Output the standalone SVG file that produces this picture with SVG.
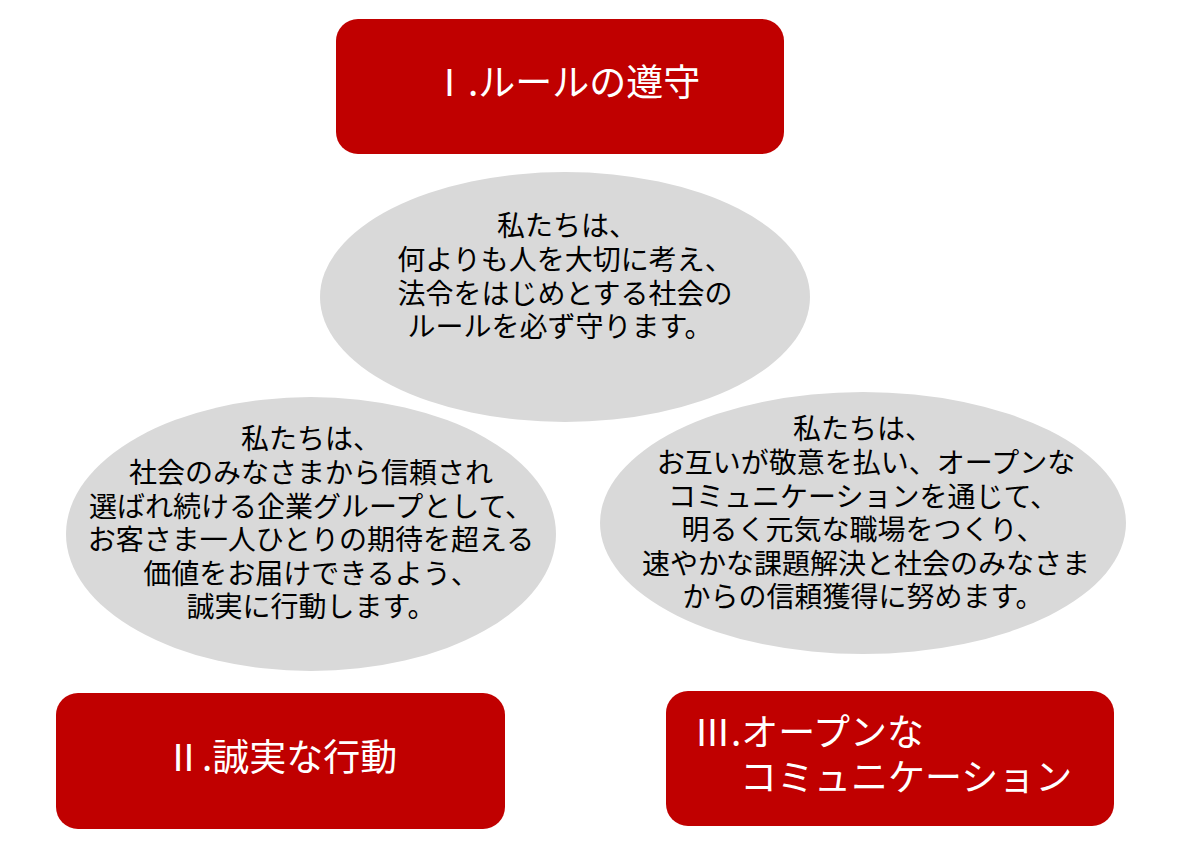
<svg xmlns="http://www.w3.org/2000/svg" width="1185" height="849" viewBox="0 0 1185 849">
<style>
.box{fill:#C00000;}
.ell{fill:#D9D9D9;}
.bt{font-family:"Noto Sans CJK JP","Noto Sans",sans-serif;font-size:37px;fill:#FFFFFF;}
.et{font-family:"Noto Sans CJK JP","Noto Sans",sans-serif;font-size:28px;fill:#000000;text-anchor:middle;}
</style>
<rect width="1185" height="849" fill="#FFFFFF"/>
<g id="connectors"></g>
<g id="box1">
<rect class="box" x="336" y="19" width="448" height="135" rx="22"/>
<text class="bt" x="431" y="96">Ⅰ.ルールの遵守</text>
</g>
<g id="ellipse1">
<ellipse class="ell" cx="565" cy="297" rx="245" ry="125"/>
<text class="et" x="567" y="236">私たちは、</text>
<text class="et" x="565" y="270">何よりも人を大切に考え、</text>
<text class="et" x="565" y="304">法令をはじめとする社会の</text>
<text class="et" x="560" y="337">ルールを必ず守ります。</text>
</g>
<g id="ellipse2">
<ellipse class="ell" cx="311" cy="534" rx="245" ry="137"/>
<text class="et" x="311" y="449">私たちは、</text>
<text class="et" x="311" y="483">社会のみなさまから信頼され</text>
<text class="et" x="311" y="517">選ばれ続ける企業グループとして、</text>
<text class="et" x="311" y="550">お客さま一人ひとりの期待を超える</text>
<text class="et" x="311" y="584">価値をお届けできるよう、</text>
<text class="et" x="311" y="617">誠実に行動します。</text>
</g>
<g id="ellipse3">
<ellipse class="ell" cx="863" cy="523" rx="263" ry="131"/>
<text class="et" x="863" y="439">私たちは、</text>
<text class="et" x="866" y="473">お互いが敬意を払い、オープンな</text>
<text class="et" x="863" y="507">コミュニケーションを通じて、</text>
<text class="et" x="863" y="540">明るく元気な職場をつくり、</text>
<text class="et" x="866" y="574">速やかな課題解決と社会のみなさま</text>
<text class="et" x="863" y="607">からの信頼獲得に努めます。</text>
</g>
<g id="box2">
<rect class="box" x="56" y="693" width="449" height="136" rx="22"/>
<text class="bt" x="165" y="771">Ⅱ.誠実な行動</text>
</g>
<g id="box3">
<rect class="box" x="666" y="691" width="448" height="135" rx="22"/>
<text class="bt" x="694" y="746">Ⅲ.オープンな</text>
<text class="bt" x="740" y="791">コミュニケーション</text>
</g>
</svg>
